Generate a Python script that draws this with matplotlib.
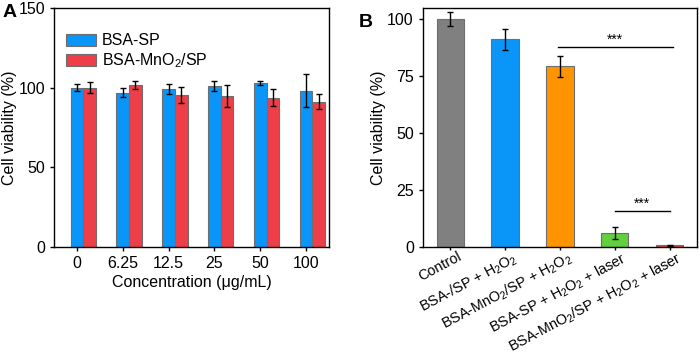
import matplotlib.pyplot as plt
import matplotlib.transforms as mtransforms
import numpy as np

plt.rcParams['font.family'] = ['Liberation Sans', 'DejaVu Sans']
plt.rcParams['font.size'] = 11.5
plt.rcParams['mathtext.fontset'] = 'custom'
plt.rcParams['mathtext.rm'] = 'Liberation Sans'
plt.rcParams['mathtext.it'] = 'Liberation Sans:italic'
plt.rcParams['mathtext.bf'] = 'Liberation Sans:bold'
plt.rcParams['mathtext.default'] = 'rm'

# panel A data
conc = ["0", "6.25", "12.5", "25", "50", "100"]
sp_mean = [100.0, 96.9, 99.2, 100.8, 102.9, 98.1]
sp_err = [2.1, 2.7, 2.9, 3.2, 1.5, 10.5]
mn_mean = [100.0, 101.7, 95.4, 94.6, 93.8, 91.3]
mn_err = [3.6, 2.3, 5.1, 6.9, 5.4, 4.5]

# panel B data
groups = ["Control", "BSA-/SP + H$_2$O$_2$", "BSA-MnO$_2$/SP + H$_2$O$_2$",
          "BSA-SP + H$_2$O$_2$ + laser", "BSA-MnO$_2$/SP + H$_2$O$_2$ + laser"]
b_mean = [100.0, 91.1, 79.2, 6.3, 0.7]
b_err = [2.9, 4.7, 4.5, 2.6, 0.3]
b_colors = ["#808080", "#0A96F8", "#FF9400", "#62CF3E", "#EE3E48"]

blue = "#0A96F8"
red = "#EE3E48"
edge = "#6E6E6E"
fs = 11.5

fig = plt.figure(figsize=(6.99, 3.58), dpi=100)
ax1 = fig.add_axes([0.0773, 0.310, 0.3934, 0.6677])
ax2 = fig.add_axes([0.605, 0.310, 0.392, 0.6677])

x = np.arange(len(conc))
w = 0.277
ax1.bar(x, sp_mean, w, yerr=sp_err, color=blue, edgecolor=edge, linewidth=0.8,
        label="BSA-SP", error_kw=dict(ecolor="black", elinewidth=1, capsize=2.5, capthick=1))
ax1.bar(x + w, mn_mean, w, yerr=mn_err, color=red, edgecolor=edge, linewidth=0.8,
        label="BSA-MnO$_2$/SP", error_kw=dict(ecolor="black", elinewidth=1, capsize=2.5, capthick=1))
ax1.set_xlim(-0.5, 5.5)
ax1.set_ylim(0, 150)
ax1.set_yticks([0, 50, 100, 150])
ax1.set_xticks(x)
ax1.set_xticklabels(conc)
ax1.tick_params(direction="out", length=3, width=1, labelsize=fs)
ax1.set_xlabel("Concentration (μg/mL)", fontsize=fs, labelpad=3)
ax1.set_ylabel("Cell viability (%)", fontsize=fs, labelpad=1)
ax1.legend(loc="upper left", frameon=False, fontsize=fs, handlelength=1.9,
           handleheight=0.8, handletextpad=0.35, labelspacing=0.2,
           bbox_to_anchor=(0.02, 0.92), borderaxespad=0)
for s in ax1.spines.values():
    s.set_linewidth(1)
fig.text(0.003, 0.953, "A", fontsize=14, fontweight="bold")

xb = np.arange(len(groups))
ax2.bar(xb, b_mean, 0.5, yerr=b_err, color=b_colors, edgecolor=edge, linewidth=0.8,
        error_kw=dict(ecolor="black", elinewidth=1, capsize=2.5, capthick=1))
ax2.set_xlim(-0.5, 4.5)
ax2.set_ylim(0, 104.8)
ax2.set_yticks([0, 25, 50, 75, 100])
ax2.set_xticks(xb)
ax2.set_xticklabels(groups, rotation=28, ha="right", rotation_mode="anchor")
ax2.tick_params(axis="y", direction="out", length=3, width=1, labelsize=fs)
ax2.tick_params(axis="x", direction="out", length=2, width=1, labelsize=10.4, pad=0)
shift = mtransforms.ScaledTranslation(0.07, 0, fig.dpi_scale_trans)
for lab in ax2.get_xticklabels():
    lab.set_transform(lab.get_transform() + shift)
ax2.set_ylabel("Cell viability (%)", fontsize=fs, labelpad=1)
for s in ax2.spines.values():
    s.set_linewidth(1)

# significance marks
ax2.plot([1.97, 4.06], [87.8, 87.8], color="black", lw=1)
ax2.text(3.0, 88.0, "***", ha="center", va="bottom", fontsize=10)
ax2.plot([3.0, 4.0], [15.6, 15.6], color="black", lw=1)
ax2.text(3.5, 15.8, "***", ha="center", va="bottom", fontsize=10)
fig.text(0.513, 0.925, "B", fontsize=14, fontweight="bold")

fig.savefig("out.png", dpi=100)
